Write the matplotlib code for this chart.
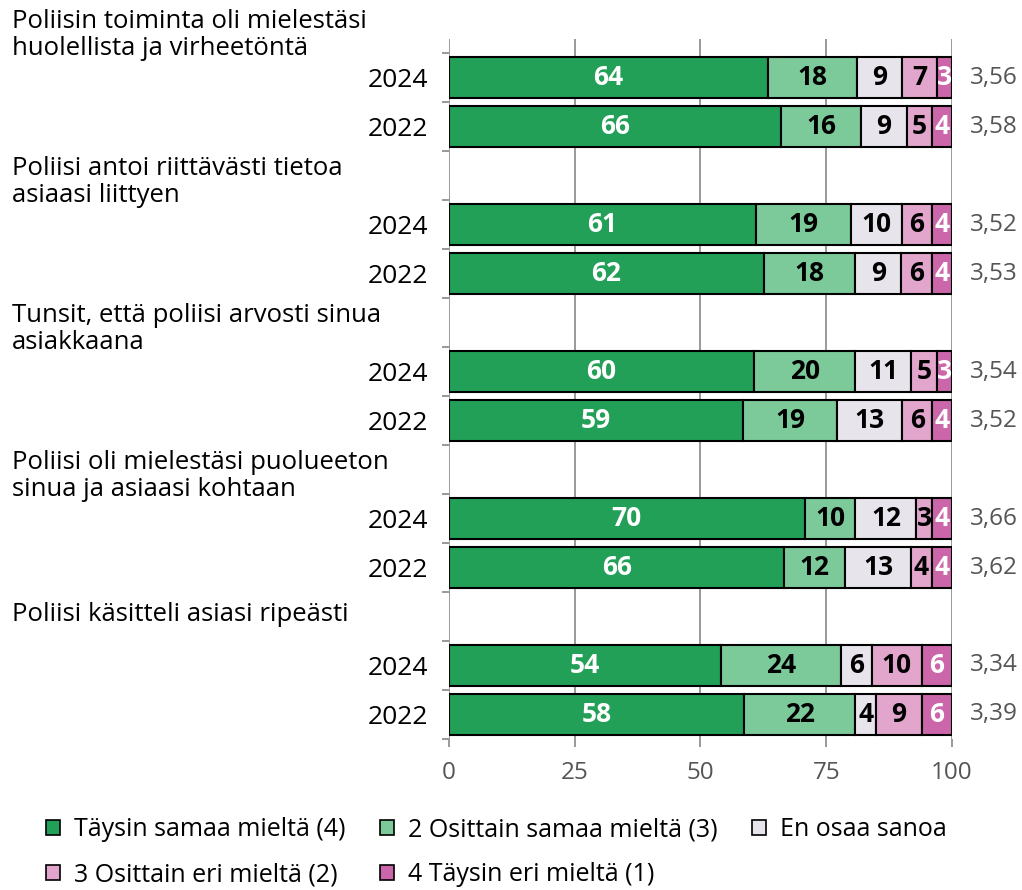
import numpy as np
import matplotlib.pyplot as plt
import matplotlib.transforms as mtransforms
from matplotlib.patches import Patch

plt.rcParams['font.family'] = ['Open Sans', 'DejaVu Sans']

# Data
groups = [
    "Poliisin toiminta oli mielestäsi\nhuolellista ja virheetöntä",
    "Poliisi antoi riittävästi tietoa\nasiaasi liittyen",
    "Tunsit, että poliisi arvosti sinua\nasiakkaana",
    "Poliisi oli mielestäsi puolueeton\nsinua ja asiaasi kohtaan",
    "Poliisi käsitteli asiasi ripeästi",
]
years = ["2024", "2022"]

taysin_samaa = [64, 66, 61, 62, 60, 59, 70, 66, 54, 58]
osittain_samaa = [18, 16, 19, 18, 20, 19, 10, 12, 24, 22]
en_osaa = [9, 9, 10, 9, 11, 13, 12, 13, 6, 4]
osittain_eri = [7, 5, 6, 6, 5, 6, 3, 4, 10, 9]
taysin_eri = [3, 4, 4, 4, 3, 4, 4, 4, 6, 6]
averages = ["3,56", "3,58", "3,52", "3,53", "3,54", "3,52", "3,66", "3,62", "3,34", "3,39"]

series_names = [
    "Täysin samaa mieltä (4)",
    "2 Osittain samaa mieltä (3)",
    "En osaa sanoa",
    "3 Osittain eri mieltä (2)",
    "4 Täysin eri mieltä (1)",
]
colors = ["#23a057", "#7cc99a", "#e7e4ec", "#e2a6cc", "#cc66aa"]
text_colors = ["white", "black", "black", "black", "white"]


def build_positions():
    # each group takes three slots: label, 2024, 2022
    pos, ylabels = [], []
    for g in range(len(groups)):
        for j, yr in enumerate(years):
            pos.append(3 * g + 1 + j)
            ylabels.append(yr)
    return np.array(pos), ylabels


def plot_chart():
    fig = plt.figure(figsize=(10.22, 8.9), dpi=100)
    ax = fig.add_axes([0.4393, 0.1697, 0.4922, 0.7865])

    pos, ylabels = build_positions()
    values = np.array([taysin_samaa, osittain_samaa, en_osaa, osittain_eri, taysin_eri], dtype=float)
    widths = values / values.sum(axis=0) * 100

    left = np.zeros(len(pos))
    for k in range(len(series_names)):
        ax.barh(pos, widths[k], left=left, height=0.84, color=colors[k],
                edgecolor='black', linewidth=1.5, zorder=3)
        for i in range(len(pos)):
            ax.text(left[i] + widths[k, i] / 2, pos[i], f"{int(values[k, i])}",
                    ha='center', va='center', fontsize=19, fontweight='bold',
                    color=text_colors[k], zorder=4)
        left += widths[k]

    right_trans = mtransforms.blended_transform_factory(ax.transAxes, ax.transData)
    for i in range(len(pos)):
        ax.text(1.035, pos[i], averages[i], transform=right_trans,
                ha='left', va='center', fontsize=17.5, color='#555555')

    # group titles at the left edge of the figure
    trans = mtransforms.blended_transform_factory(fig.transFigure, ax.transData)
    for g, name in enumerate(groups):
        offset = 0.13 if '\n' in name else -0.05
        fig.text(0.0117, 3 * g + offset, name, transform=trans, ha='left', va='center',
                 fontsize=18.5, linespacing=1.14, color='black')

    ax.set_xlim(0, 100)
    ax.set_ylim(14.5, 0.21)
    ax.set_xticks([0, 25, 50, 75, 100])
    ax.set_yticks(pos)
    ax.set_yticklabels(ylabels)
    ax.set_yticks(np.arange(0.5, 15, 1), minor=True)

    ax.tick_params(axis='y', which='major', length=0, pad=15, labelsize=19)
    ax.tick_params(axis='y', which='minor', length=5, width=1.4, color='#999999')
    ax.tick_params(axis='x', length=6, width=1.4, color='#999999', pad=10,
                   labelsize=17.5, labelcolor='#555555')
    ax.grid(axis='x', color='#999999', linewidth=1.4, zorder=0)
    for s in ax.spines.values():
        s.set_visible(False)

    handles = [Patch(facecolor=c, edgecolor='black', linewidth=1.2) for c in colors]
    order = [0, 3, 1, 4, 2]
    fig.legend([handles[i] for i in order], [series_names[i] for i in order],
               loc='upper left', bbox_to_anchor=(0.035, 0.093), ncol=3, frameon=False,
               fontsize=18, handlelength=0.55, handleheight=0.55, handletextpad=0.56,
               columnspacing=1.4, labelspacing=0.8, borderaxespad=0)

    fig.savefig('out.png', dpi=100)


if __name__ == '__main__':
    plot_chart()
